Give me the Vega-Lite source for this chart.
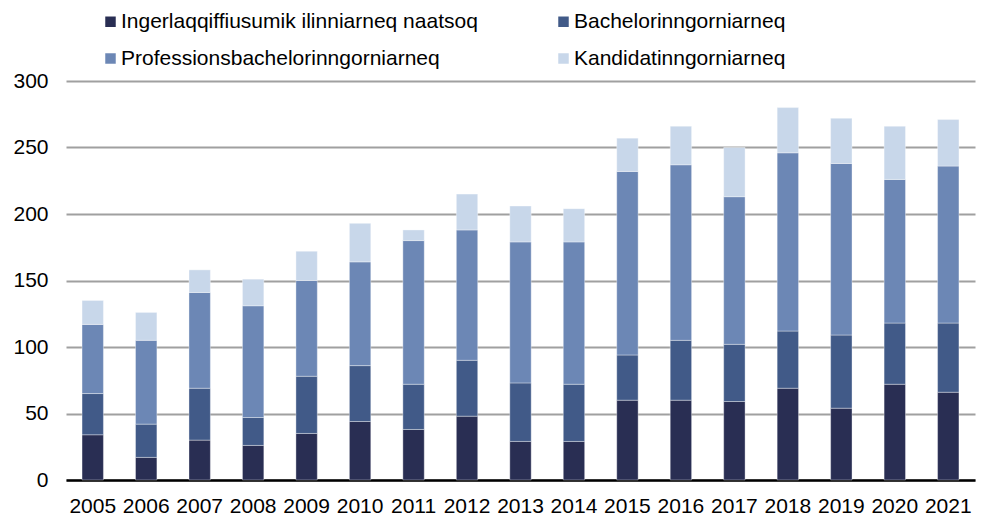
{
  "$schema": "https://vega.github.io/schema/vega-lite/v6.json",
  "width": 909,
  "height": 399,
  "autosize": "none",
  "padding": {"left": 66, "top": 81, "right": 9, "bottom": 36},
  "background": "white",
  "config": {
    "view": {"stroke": null},
    "font": "Liberation Sans",
    "axis": {"labelFont": "Liberation Sans", "labelFontSize": 21, "labelColor": "#000000"},
    "legend": {"labelFont": "Liberation Sans", "labelFontSize": 21, "labelColor": "#000000", "labelLimit": 1000}
  },
  "data": {
    "values": [
      {"year": "2005", "cat": "Ingerlaqqiffiusumik ilinniarneq naatsoq", "o": 1, "v": 34},
      {"year": "2005", "cat": "Bachelorinngorniarneq", "o": 2, "v": 31},
      {"year": "2005", "cat": "Professionsbachelorinngorniarneq", "o": 3, "v": 52},
      {"year": "2005", "cat": "Kandidatinngorniarneq", "o": 4, "v": 18},
      {"year": "2006", "cat": "Ingerlaqqiffiusumik ilinniarneq naatsoq", "o": 1, "v": 17},
      {"year": "2006", "cat": "Bachelorinngorniarneq", "o": 2, "v": 25},
      {"year": "2006", "cat": "Professionsbachelorinngorniarneq", "o": 3, "v": 63},
      {"year": "2006", "cat": "Kandidatinngorniarneq", "o": 4, "v": 21},
      {"year": "2007", "cat": "Ingerlaqqiffiusumik ilinniarneq naatsoq", "o": 1, "v": 30},
      {"year": "2007", "cat": "Bachelorinngorniarneq", "o": 2, "v": 39},
      {"year": "2007", "cat": "Professionsbachelorinngorniarneq", "o": 3, "v": 72},
      {"year": "2007", "cat": "Kandidatinngorniarneq", "o": 4, "v": 17},
      {"year": "2008", "cat": "Ingerlaqqiffiusumik ilinniarneq naatsoq", "o": 1, "v": 26},
      {"year": "2008", "cat": "Bachelorinngorniarneq", "o": 2, "v": 21},
      {"year": "2008", "cat": "Professionsbachelorinngorniarneq", "o": 3, "v": 84},
      {"year": "2008", "cat": "Kandidatinngorniarneq", "o": 4, "v": 20},
      {"year": "2009", "cat": "Ingerlaqqiffiusumik ilinniarneq naatsoq", "o": 1, "v": 35},
      {"year": "2009", "cat": "Bachelorinngorniarneq", "o": 2, "v": 43},
      {"year": "2009", "cat": "Professionsbachelorinngorniarneq", "o": 3, "v": 72},
      {"year": "2009", "cat": "Kandidatinngorniarneq", "o": 4, "v": 22},
      {"year": "2010", "cat": "Ingerlaqqiffiusumik ilinniarneq naatsoq", "o": 1, "v": 44},
      {"year": "2010", "cat": "Bachelorinngorniarneq", "o": 2, "v": 42},
      {"year": "2010", "cat": "Professionsbachelorinngorniarneq", "o": 3, "v": 78},
      {"year": "2010", "cat": "Kandidatinngorniarneq", "o": 4, "v": 29},
      {"year": "2011", "cat": "Ingerlaqqiffiusumik ilinniarneq naatsoq", "o": 1, "v": 38},
      {"year": "2011", "cat": "Bachelorinngorniarneq", "o": 2, "v": 34},
      {"year": "2011", "cat": "Professionsbachelorinngorniarneq", "o": 3, "v": 108},
      {"year": "2011", "cat": "Kandidatinngorniarneq", "o": 4, "v": 8},
      {"year": "2012", "cat": "Ingerlaqqiffiusumik ilinniarneq naatsoq", "o": 1, "v": 48},
      {"year": "2012", "cat": "Bachelorinngorniarneq", "o": 2, "v": 42},
      {"year": "2012", "cat": "Professionsbachelorinngorniarneq", "o": 3, "v": 98},
      {"year": "2012", "cat": "Kandidatinngorniarneq", "o": 4, "v": 27},
      {"year": "2013", "cat": "Ingerlaqqiffiusumik ilinniarneq naatsoq", "o": 1, "v": 29},
      {"year": "2013", "cat": "Bachelorinngorniarneq", "o": 2, "v": 44},
      {"year": "2013", "cat": "Professionsbachelorinngorniarneq", "o": 3, "v": 106},
      {"year": "2013", "cat": "Kandidatinngorniarneq", "o": 4, "v": 27},
      {"year": "2014", "cat": "Ingerlaqqiffiusumik ilinniarneq naatsoq", "o": 1, "v": 29},
      {"year": "2014", "cat": "Bachelorinngorniarneq", "o": 2, "v": 43},
      {"year": "2014", "cat": "Professionsbachelorinngorniarneq", "o": 3, "v": 107},
      {"year": "2014", "cat": "Kandidatinngorniarneq", "o": 4, "v": 25},
      {"year": "2015", "cat": "Ingerlaqqiffiusumik ilinniarneq naatsoq", "o": 1, "v": 60},
      {"year": "2015", "cat": "Bachelorinngorniarneq", "o": 2, "v": 34},
      {"year": "2015", "cat": "Professionsbachelorinngorniarneq", "o": 3, "v": 138},
      {"year": "2015", "cat": "Kandidatinngorniarneq", "o": 4, "v": 25},
      {"year": "2016", "cat": "Ingerlaqqiffiusumik ilinniarneq naatsoq", "o": 1, "v": 60},
      {"year": "2016", "cat": "Bachelorinngorniarneq", "o": 2, "v": 45},
      {"year": "2016", "cat": "Professionsbachelorinngorniarneq", "o": 3, "v": 132},
      {"year": "2016", "cat": "Kandidatinngorniarneq", "o": 4, "v": 29},
      {"year": "2017", "cat": "Ingerlaqqiffiusumik ilinniarneq naatsoq", "o": 1, "v": 59},
      {"year": "2017", "cat": "Bachelorinngorniarneq", "o": 2, "v": 43},
      {"year": "2017", "cat": "Professionsbachelorinngorniarneq", "o": 3, "v": 111},
      {"year": "2017", "cat": "Kandidatinngorniarneq", "o": 4, "v": 37},
      {"year": "2018", "cat": "Ingerlaqqiffiusumik ilinniarneq naatsoq", "o": 1, "v": 69},
      {"year": "2018", "cat": "Bachelorinngorniarneq", "o": 2, "v": 43},
      {"year": "2018", "cat": "Professionsbachelorinngorniarneq", "o": 3, "v": 134},
      {"year": "2018", "cat": "Kandidatinngorniarneq", "o": 4, "v": 34},
      {"year": "2019", "cat": "Ingerlaqqiffiusumik ilinniarneq naatsoq", "o": 1, "v": 54},
      {"year": "2019", "cat": "Bachelorinngorniarneq", "o": 2, "v": 55},
      {"year": "2019", "cat": "Professionsbachelorinngorniarneq", "o": 3, "v": 129},
      {"year": "2019", "cat": "Kandidatinngorniarneq", "o": 4, "v": 34},
      {"year": "2020", "cat": "Ingerlaqqiffiusumik ilinniarneq naatsoq", "o": 1, "v": 72},
      {"year": "2020", "cat": "Bachelorinngorniarneq", "o": 2, "v": 46},
      {"year": "2020", "cat": "Professionsbachelorinngorniarneq", "o": 3, "v": 108},
      {"year": "2020", "cat": "Kandidatinngorniarneq", "o": 4, "v": 40},
      {"year": "2021", "cat": "Ingerlaqqiffiusumik ilinniarneq naatsoq", "o": 1, "v": 66},
      {"year": "2021", "cat": "Bachelorinngorniarneq", "o": 2, "v": 52},
      {"year": "2021", "cat": "Professionsbachelorinngorniarneq", "o": 3, "v": 118},
      {"year": "2021", "cat": "Kandidatinngorniarneq", "o": 4, "v": 35}
    ]
  },
  "mark": {"type": "bar", "stroke": "#ffffff", "strokeWidth": 0.6, "strokeOpacity": 0.6},
  "encoding": {
    "x": {
      "field": "year", "type": "nominal", "title": null,
      "scale": {"paddingInner": 0.6, "paddingOuter": 0.3},
      "axis": {"labelAngle": 0, "ticks": false, "domain": true, "domainColor": "#000000", "domainWidth": 2.5, "labelPadding": 15, "grid": false}
    },
    "y": {
      "field": "v", "type": "quantitative", "stack": "zero", "title": null,
      "scale": {"domain": [0, 300]},
      "axis": {"values": [0, 50, 100, 150, 200, 250, 300], "domain": false, "ticks": false, "labelPadding": 18, "grid": true, "gridColor": "#a0a0a0", "gridWidth": 2}
    },
    "color": {
      "field": "cat", "type": "nominal",
      "scale": {
        "domain": ["Ingerlaqqiffiusumik ilinniarneq naatsoq", "Bachelorinngorniarneq", "Professionsbachelorinngorniarneq", "Kandidatinngorniarneq"],
        "range": ["#292e53", "#415a88", "#6c87b5", "#c8d7ea"]
      },
      "legend": {
        "title": null, "orient": "none", "legendX": 34, "legendY": -70,
        "direction": "horizontal", "columns": 2, "columnPadding": 75, "rowPadding": 15,
        "symbolType": "square", "symbolSize": 110, "symbolStrokeWidth": 0, "labelOffset": 0
      }
    },
    "order": {"field": "o", "type": "quantitative"}
  }
}
